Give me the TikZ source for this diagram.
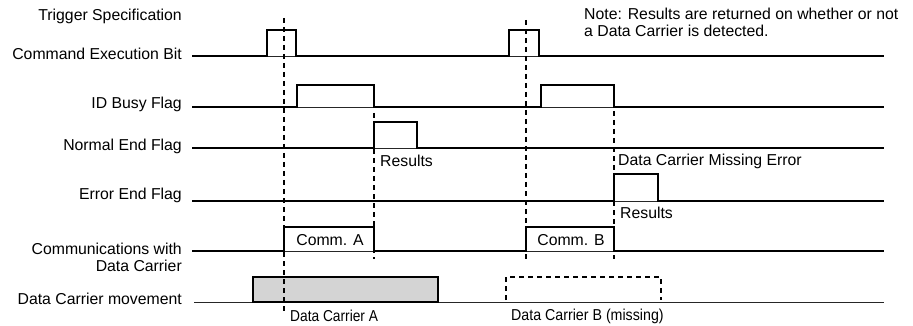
\documentclass[tikz,border=0pt]{standalone}
\usepackage{fontspec}
\setmainfont{Liberation Sans}
\begin{document}
\begin{tikzpicture}[x=1pt,y=-1pt,
  lbl/.style={anchor=east,inner sep=0pt,font=\fontsize{15.8}{17}\selectfont},
  txt/.style={anchor=west,inner sep=0pt,font=\fontsize{15.8}{17}\selectfont},
  ctxt/.style={inner sep=0pt,font=\fontsize{15.8}{17}\selectfont},
  thin line/.style={line width=0.9pt,black!85},
  wave/.style={line width=2.2pt,line join=miter},
  dash line/.style={line width=2pt,dash pattern=on 5pt off 4pt}]
\useasboundingbox (0,0) rectangle (913,326);
% labels
\node[lbl] (l1) at (182,16) {Trigger Specification};
\node[lbl] (l2) at (182,54) {Command Execution Bit};
\node[lbl] (l3) at (182,104) {ID Busy Flag};
\node[lbl] (l4) at (182,146) {Normal End Flag};
\node[lbl] (l5) at (182,195) {Error End Flag};
\node[lbl,align=right] (l6) at (182,257) {Communications with\\Data Carrier};
\node[lbl] (l7) at (182,299) {Data Carrier movement};
% note
\node[txt,align=left,anchor=north west] (note) at (584,8) {Note: Results are returned on whether or not\\a Data Carrier is detected.};
% thin baselines
\draw[thin line] (192,56) -- (884,56);
\draw[thin line] (192,107) -- (884,107);
\draw[thin line] (192,148) -- (884,148);
\draw[thin line] (192,201) -- (884,201);
\draw[thin line] (192,251) -- (884,251);
\draw[thin line] (194,302) -- (884,302);
% Command execution bit
\draw[wave] (192,56) -- (267,56) -- (267,30) -- (296,30) -- (296,56) -- (509,56) -- (509,30) -- (539,30) -- (539,56) -- (884,56);
% ID busy
\draw[wave] (192,107) -- (297,107) -- (297,85) -- (374,85) -- (374,107) -- (541,107) -- (541,85) -- (614,85) -- (614,107) -- (884,107);
% Normal end
\draw[wave] (192,148) -- (374,148) -- (374,122) -- (417,122) -- (417,148) -- (884,148);
% Error end
\draw[wave] (192,201) -- (614,201) -- (614,174) -- (658,174) -- (658,201) -- (884,201);
% Communications
\draw[wave] (192,251) -- (284,251) -- (284,227) -- (374,227) -- (374,251) -- (526,251) -- (526,227) -- (614,227) -- (614,251) -- (884,251);
\node[ctxt] (ca) at (330,240) {Comm. A};
\node[ctxt] (cb) at (571,240) {Comm. B};
% Data carrier movement
\draw[line width=2.2pt,fill=black!17] (253,302) rectangle (438,277);
\draw[dash line] (506,300) -- (506,277) -- (661,277) -- (661,300);
% dashed verticals
\draw[dash line] (284,18) -- (284,312);
\draw[dash line] (526,20) -- (526,259);
\draw[dash line] (374,113) -- (374,259);
\draw[dash line] (614,111) -- (614,259);
% annotations
\node[txt] (r1) at (380,161) {Results};
\node[txt] (dme) at (618,161) {Data Carrier Missing Error};
\node[txt] (r2) at (620,213) {Results};
\node[txt] (dca) at (290,316) {\scalebox{0.87}[1]{Data Carrier A}};
\node[txt] (dcb) at (511,316) {\scalebox{0.9}[1]{Data Carrier B (missing)}};
\end{tikzpicture}
\end{document}
